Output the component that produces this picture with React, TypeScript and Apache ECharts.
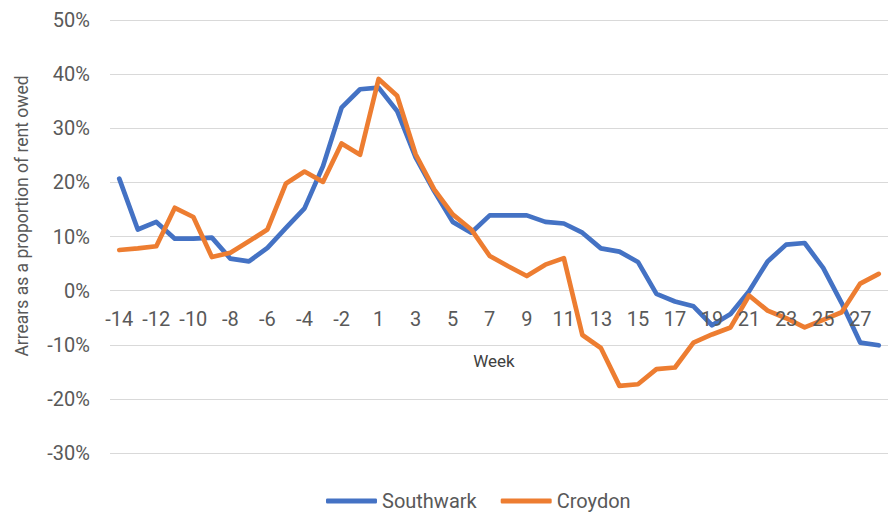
import React, { useEffect, useRef } from "react";
import * as echarts from "echarts";

const weeks: string[] = [
  "-14", "-13", "-12", "-11", "-10", "-9", "-8", "-7", "-6", "-5", "-4", "-3", "-2", "-1",
  "1", "2", "3", "4", "5", "6", "7", "8", "9", "10", "11", "12", "13", "14",
  "15", "16", "17", "18", "19", "20", "21", "22", "23", "24", "25", "26", "27", "28",
];

const southwark: number[] = [
  20.7, 11.3, 12.7, 9.6, 9.6, 9.8, 5.9, 5.4, 7.9, 11.6, 15.2, 23.0, 33.8, 37.2,
  37.5, 33.2, 24.6, 18.4, 12.7, 10.7, 13.9, 13.9, 13.9, 12.7, 12.4, 10.7, 7.8, 7.2,
  5.3, -0.6, -2.0, -2.9, -6.4, -4.3, -0.1, 5.4, 8.5, 8.8, 4.2, -2.3, -9.6, -10.1,
];

const croydon: number[] = [
  7.5, 7.8, 8.2, 15.3, 13.6, 6.2, 7.0, 9.1, 11.3, 19.8, 22.0, 20.1, 27.2, 25.1,
  39.1, 36.0, 25.2, 18.7, 14.1, 11.3, 6.4, 4.5, 2.7, 4.8, 6.0, -8.2, -10.6, -17.6,
  -17.3, -14.5, -14.2, -9.6, -8.1, -6.8, -0.9, -3.7, -5.1, -6.8, -5.4, -4.0, 1.3, 3.1,
];

const seriesNames: string[] = ["Southwark", "Croydon"];
const yAxisTitle = "Arrears as a proportion of rent owed";
const xAxisTitle = "Week";

export default function App() {
  const ref = useRef<HTMLDivElement>(null);

  useEffect(() => {
    if (!ref.current) return;
    const chart = echarts.init(ref.current, undefined, { renderer: "svg" });
    const font = "Roboto, 'DejaVu Sans', sans-serif";
    const labelColor = "#595959";
    chart.setOption({
      animation: false,
      backgroundColor: "#ffffff",
      textStyle: { fontFamily: font },
      grid: { left: 110, top: 20, width: 794, height: 433, containLabel: false },
      legend: {
        left: 326,
        top: 491,
        padding: 0,
        icon: "roundRect",
        itemWidth: 51,
        itemHeight: 5,
        itemGap: 24,
        textStyle: { fontSize: 20, color: labelColor, fontFamily: font },
        data: seriesNames,
      },
      xAxis: {
        type: "category",
        data: weeks,
        boundaryGap: true,
        offset: -162,
        z: 10,
        axisLine: { show: false, onZero: false },
        axisTick: { show: false },
        axisLabel: { interval: 1, fontSize: 20, color: labelColor, margin: 18, fontFamily: font },
        splitLine: { show: false },
      },
      yAxis: {
        type: "value",
        min: -30,
        max: 50,
        interval: 10,
        axisLine: { show: false },
        axisTick: { show: false },
        axisLabel: {
          fontSize: 20,
          color: labelColor,
          margin: 20,
          fontFamily: font,
          formatter: (v: number) => `${v}%`,
        },
        splitLine: { show: true, lineStyle: { color: "#d9d9d9", width: 1 } },
      },
      graphic: [
        {
          type: "text",
          x: 22,
          y: 216,
          rotation: Math.PI / 2,
          style: {
            text: yAxisTitle,
            fontSize: 17.5,
            fill: labelColor,
            fontFamily: font,
            align: "center",
            verticalAlign: "middle",
          },
        },
        {
          type: "text",
          x: 494,
          y: 361,
          style: {
            text: xAxisTitle,
            fontSize: 17,
            fill: "#404040",
            fontFamily: font,
            align: "center",
            verticalAlign: "middle",
          },
        },
      ],
      series: [
        {
          name: seriesNames[0],
          type: "line",
          data: southwark,
          symbol: "none",
          smooth: false,
          lineStyle: { color: "#4472C4", width: 4.7, cap: "round", join: "round" },
          itemStyle: { color: "#4472C4" },
        },
        {
          name: seriesNames[1],
          type: "line",
          data: croydon,
          symbol: "none",
          smooth: false,
          lineStyle: { color: "#ED7D31", width: 4.7, cap: "round", join: "round" },
          itemStyle: { color: "#ED7D31" },
        },
      ],
    });
    return () => chart.dispose();
  }, []);

  return (
    <div
      ref={ref}
      style={{ position: "fixed", left: 0, top: 0, width: 888, height: 513, background: "#fff" }}
    />
  );
}
